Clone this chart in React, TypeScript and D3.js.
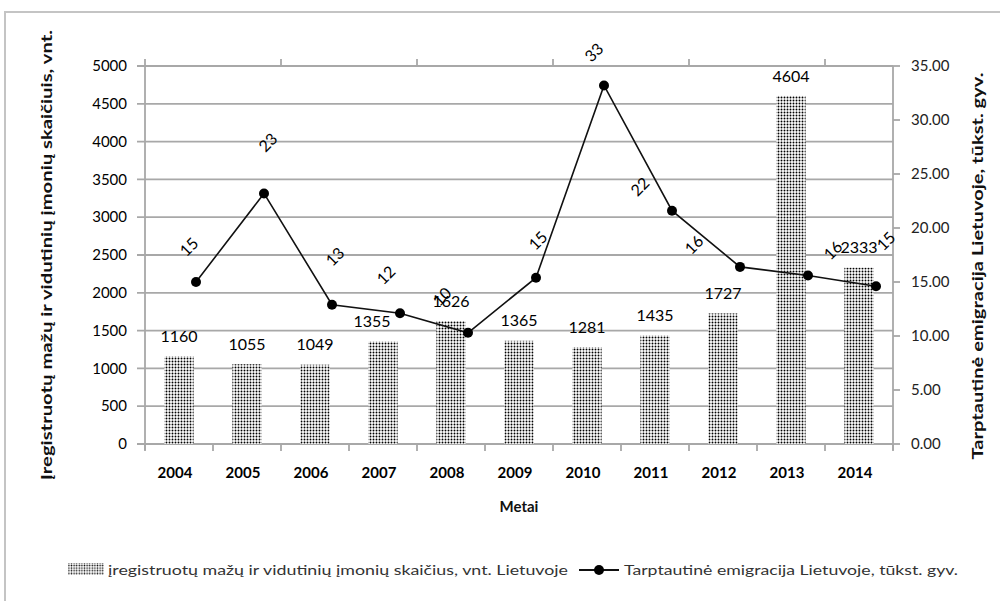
import * as d3 from "d3";

const years = ["2004", "2005", "2006", "2007", "2008", "2009", "2010", "2011", "2012", "2013", "2014"];
// įregistruotų MVĮ skaičius, vnt.
const smeCounts = [1160, 1055, 1049, 1355, 1626, 1365, 1281, 1435, 1727, 4604, 2333];
// tarptautinė emigracija, tūkst. gyv.
const emigration = [15.0, 23.2, 12.9, 12.1, 10.3, 15.4, 33.2, 21.6, 16.4, 15.6, 14.6];
const leftTicks = [0, 500, 1000, 1500, 2000, 2500, 3000, 3500, 4000, 4500, 5000];
const rightTicks = [0, 5, 10, 15, 20, 25, 30, 35];

const leftTitle = "Įregistruotų mažų ir vidutinių įmonių skaičiuis, vnt.";
const rightTitle = "Tarptautinė emigracija Lietuvoje, tūkst. gyv.";
const xTitle = "Metai";
const barLegend = "įregistruotų mažų ir vidutinių įmonių skaičius, vnt. Lietuvoje";
const lineLegend = "Tarptautinė emigracija Lietuvoje, tūkst. gyv.";

// hand-dragged label offsets, as in the original Excel chart
const lineLabelShift = [[-7, -35], [4, -51], [3, -48], [-14, -38], [-26, -36], [2, -37], [-10, -33], [-32, -24], [-46, -22], [25, -25], [10, -45]];
const barLabelShift = [0, 0, 0, -11, 0, 0, 0, 0, 0, 0, 0];

const FONT = "Lato, 'Open Sans', sans-serif";
const GRID = "#a8a8a8";

export default function App() {
  const width = 1000;
  const height = 601;
  const margin = { top: 66, right: 107, bottom: 157, left: 145 };
  const x0 = margin.left;
  const x1 = width - margin.right;
  const yTop = margin.top;
  const yBottom = height - margin.bottom;

  const x = d3.scaleBand<string>().domain(years).range([x0, x1]).padding(0);
  const bw = x.bandwidth();
  const yLeft = d3.scaleLinear().domain([0, 5000]).range([yBottom, yTop]);
  const yRight = d3.scaleLinear().domain([0, 35]).range([yBottom, yTop]);
  const fmtRight = d3.format(".2f");

  const barW = bw * 0.43;
  const lineX = (i: number) => (x(years[i]) as number) + bw * 0.75;
  const linePath = d3
    .line<number>()
    .x((_, i) => lineX(i))
    .y((d) => yRight(d))(emigration) as string;

  const boundaries = d3.range(years.length + 1).map((i) => x0 + i * bw);
  const titleCenter = (yTop + yBottom) / 2;

  return (
    <svg
      width={width}
      height={height}
      style={{ position: "absolute", left: 0, top: 0, background: "#fff" }}
      fontFamily={FONT}
    >
      <defs>
        <pattern id="dots" patternUnits="userSpaceOnUse" width={3} height={3}>
          <rect width={3} height={3} fill="#fff" />
          <circle cx={1.5} cy={1.5} r={0.95} fill="#000" />
        </pattern>
        <pattern id="dotsLegend" patternUnits="userSpaceOnUse" width={2.6} height={2.6}>
          <rect width={2.6} height={2.6} fill="#fff" />
          <circle cx={1.3} cy={1.3} r={0.8} fill="#111" />
        </pattern>
      </defs>

      <rect x={5} y={12} width={1010} height={610} fill="#fff" stroke="#c4c4c4" strokeWidth={2} />

      {/* gridlines */}
      {leftTicks.map((t) => (
        <line key={t} x1={x0 - 8} x2={x1} y1={yLeft(t)} y2={yLeft(t)} stroke={GRID} strokeWidth={1.8} />
      ))}

      {/* axes */}
      <line x1={x0} x2={x0} y1={yTop} y2={yBottom + 6} stroke={GRID} strokeWidth={1.8} />
      <line x1={x1} x2={x1} y1={yTop} y2={yBottom + 6} stroke={GRID} strokeWidth={1.8} />
      {rightTicks.map((t) => (
        <line key={t} x1={x1} x2={x1 + 7} y1={yRight(t)} y2={yRight(t)} stroke={GRID} strokeWidth={1.8} />
      ))}
      {boundaries.map((b, i) => (
        <line key={"b" + i} x1={b} x2={b} y1={yBottom} y2={yBottom + 7} stroke={GRID} strokeWidth={1.8} />
      ))}
      {boundaries
        .filter((_, i) => i % 2 === 0)
        .map((b, i) => (
          <line key={"t" + i} x1={b} x2={b} y1={yTop - 7} y2={yTop} stroke={GRID} strokeWidth={1.8} />
        ))}

      {/* tick labels */}
      {leftTicks.map((t) => (
        <text key={t} x={x0 - 18} y={yLeft(t)} dy="0.35em" textAnchor="end" fontSize={15} fill="#000">
          {t}
        </text>
      ))}
      {rightTicks.map((t) => (
        <text key={t} x={x1 + 18} y={yRight(t)} dy="0.35em" textAnchor="start" fontSize={15} fill="#222">
          {fmtRight(t)}
        </text>
      ))}
      {years.map((yr) => (
        <text
          key={yr}
          x={(x(yr) as number) + bw / 2 - 4}
          y={yBottom + 29}
          dy="0.35em"
          textAnchor="middle"
          fontSize={15}
          fontWeight="bold"
          fill="#000"
        >
          {yr}
        </text>
      ))}

      {/* bars */}
      {smeCounts.map((v, i) => (
        <rect
          key={years[i]}
          x={(x(years[i]) as number) + (bw - barW) / 2}
          y={yLeft(v)}
          width={barW}
          height={yBottom - yLeft(v)}
          fill="url(#dots)"
        />
      ))}
      {smeCounts.map((v, i) => (
        <text
          key={"bl" + i}
          x={(x(years[i]) as number) + bw / 2 + barLabelShift[i]}
          y={yLeft(v) - 20}
          dy="0.35em"
          textAnchor="middle"
          fontSize={16}
          fill="#000"
        >
          {v}
        </text>
      ))}

      {/* line */}
      <path d={linePath} fill="none" stroke="#111" strokeWidth={1.6} />
      {emigration.map((v, i) => (
        <circle key={"p" + i} cx={lineX(i)} cy={yRight(v)} r={5} fill="#000" />
      ))}
      {emigration.map((v, i) => {
        const lx = lineX(i) + lineLabelShift[i][0];
        const ly = yRight(v) + lineLabelShift[i][1];
        return (
          <text
            key={"ll" + i}
            x={lx}
            y={ly}
            dy="0.35em"
            textAnchor="middle"
            fontSize={16}
            fill="#000"
            transform={`rotate(-45 ${lx} ${ly})`}
          >
            {v.toFixed(0)}
          </text>
        );
      })}

      {/* axis titles */}
      <text
        x={47}
        y={titleCenter}
        dy="0.35em"
        textAnchor="middle"
        fontSize={15}
        fontWeight="bold"
        fill="#111"
        textLength={450}
        lengthAdjust="spacingAndGlyphs"
        transform={`rotate(-90 47 ${titleCenter})`}
      >
        {leftTitle}
      </text>
      <text
        x={978}
        y={266}
        dy="0.35em"
        textAnchor="middle"
        fontSize={15}
        fontWeight="bold"
        fill="#111"
        textLength={387}
        lengthAdjust="spacingAndGlyphs"
        transform={`rotate(-90 978 266)`}
      >
        {rightTitle}
      </text>
      <text x={(x0 + x1) / 2} y={507} dy="0.35em" textAnchor="middle" fontSize={15} fontWeight="bold" fill="#111">
        {xTitle}
      </text>

      {/* legend */}
      <g>
        <rect x={68} y={563} width={36} height={12} fill="url(#dotsLegend)" />
        <text x={108} y={570} dy="0.35em" fontSize={14} fill="#333" textLength={460} lengthAdjust="spacingAndGlyphs">
          {barLegend}
        </text>
        <line x1={579} x2={619} y1={570} y2={570} stroke="#111" strokeWidth={2} />
        <circle cx={599} cy={570} r={5} fill="#000" />
        <text x={624} y={570} dy="0.35em" fontSize={14} fill="#333" textLength={334} lengthAdjust="spacingAndGlyphs">
          {lineLegend}
        </text>
      </g>
    </svg>
  );
}
